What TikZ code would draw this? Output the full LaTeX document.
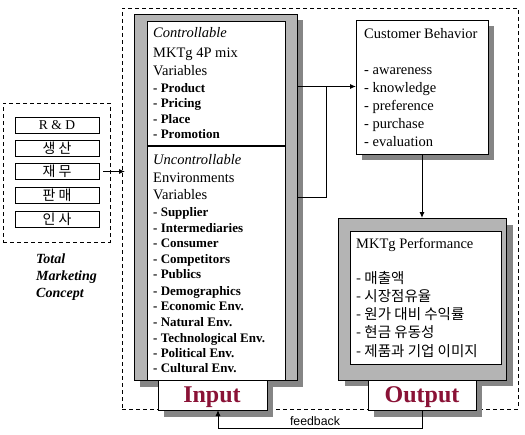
\documentclass[tikz,border=0pt]{standalone}
\usepackage{fontspec}
\setmainfont{Liberation Serif}
\newfontfamily\krfont{Noto Sans CJK KR}
\newfontfamily\arialfont{Liberation Sans}
\usetikzlibrary{arrows.meta}
\definecolor{panelgray}{HTML}{B4B4B4}
\definecolor{shadowgray}{HTML}{858585}
\definecolor{ioRed}{HTML}{8A1236}
\tikzset{
  box/.style={draw=black,line width=1pt,fill=white,inner sep=0pt,outer sep=0pt},
  panel/.style={draw=black,line width=1pt,fill=panelgray,inner sep=0pt,outer sep=0pt},
  shadowbox/.style={fill=shadowgray,draw=none,inner sep=0pt,outer sep=0pt},
  dashbox/.style={draw=black,line width=0.8pt,dash pattern=on 4pt off 3pt,inner sep=0pt,outer sep=0pt},
  txt/.style={anchor=base west,inner sep=0pt,font=\fontsize{14.5}{17}\selectfont},
  bld/.style={anchor=base west,inner sep=0pt,font=\fontsize{13}{15}\selectfont\bfseries},
  krtxt/.style={anchor=base west,inner sep=0pt,font=\fontsize{14.5}{17}\selectfont\krfont},
  deptbox/.style={box,minimum width=84pt,minimum height=16pt,font=\fontsize{14}{16}\selectfont\krfont},
  iolabel/.style={anchor=base,inner sep=0pt,text=ioRed,font=\fontsize{24}{26}\selectfont\bfseries},
  tmc/.style={anchor=base west,inner sep=0pt,font=\fontsize{14}{16}\selectfont\bfseries\itshape},
  conn/.style={draw=black,line width=1pt},
  arr/.style={conn,-{Latex[length=6pt,width=5pt]}},
}
\begin{document}
\begin{tikzpicture}[x=1pt,y=-1pt]
\useasboundingbox (0,0) rectangle (525,434);
% outer dashed frame
\node[dashbox,minimum width=396pt,minimum height=401pt] (outer) at (320,208.5) {};
% left dashed box
\node[dashbox,minimum width=107pt,minimum height=139pt] (lbox) at (56.5,172.5) {};
\node[deptbox,font=\fontsize{13.5}{15}\selectfont] (b1) at (57,125) {R \& D};
\node[deptbox] (b2) at (57,148.5) {생 산};
\node[deptbox] (b3) at (57,171.5) {재 무};
\node[deptbox] (b4) at (57,195.5) {판 매};
\node[deptbox] (b5) at (57,219.5) {인 사};
\node[tmc] (tm1) at (36,263) {Total};
\node[tmc] (tm2) at (36,280) {Marketing};
\node[tmc] (tm3) at (36,297) {Concept};

% Input panel
\node[shadowbox,minimum width=163pt,minimum height=367pt] (inshadow) at (221.5,203.5) {};
\node[panel,minimum width=163pt,minimum height=366pt] (inpanel) at (215.5,197) {};
\node[box,minimum width=138pt,minimum height=125pt] (ctrl) at (216,83.5) {};
\node[box,minimum width=138pt,minimum height=234pt] (unctrl) at (216,263) {};
\draw[line width=1.8pt] (ctrl.south west) -- (ctrl.south east);
\node[shadowbox,minimum width=109pt,minimum height=31pt] (inbshadow) at (218.5,401.5) {};
\node[box,minimum width=109pt,minimum height=30pt] (inbox) at (212.5,395) {};
\node[iolabel] (inlabel) at (212,402) {Input};

\node[txt,font=\fontsize{14.5}{17}\selectfont\itshape] (c1) at (153,37) {Controllable};
\node[txt] (c2) at (153,57) {MKTg 4P mix};
\node[txt] (c3) at (153,75) {Variables};
\node[bld] (c4) at (153,92) {- Product};
\node[bld] (c5) at (153,107.5) {- Pricing};
\node[bld] (c6) at (153,123) {- Place};
\node[bld] (c7) at (153,138) {- Promotion};

\node[txt,font=\fontsize{14.5}{17}\selectfont\itshape] (u1) at (153,164) {Uncontrollable};
\node[txt] (u2) at (153,182) {Environments};
\node[txt] (u3) at (153,199) {Variables};
\node[bld] (u4) at (153,216) {- Supplier};
\node[bld] (u5) at (153,232) {- Intermediaries};
\node[bld] (u6) at (153,247) {- Consumer};
\node[bld] (u7) at (153,263) {- Competitors};
\node[bld] (u8) at (153,278) {- Publics};
\node[bld] (u9) at (153,295) {- Demographics};
\node[bld] (u10) at (153,310) {- Economic Env.};
\node[bld] (u11) at (153,326) {- Natural Env.};
\node[bld] (u12) at (153,342) {- Technological Env.};
\node[bld] (u13) at (153,357) {- Political Env.};
\node[bld] (u14) at (153,372) {- Cultural Env.};

% Customer behavior
\node[shadowbox,minimum width=132pt,minimum height=134pt] (cshadow) at (428,93) {};
\node[box,minimum width=132pt,minimum height=134pt] (cust) at (422,87) {};
\node[txt] (cb0) at (364,38) {Customer Behavior};
\node[txt] (cb1) at (364,74) {- awareness};
\node[txt] (cb2) at (364,92) {- knowledge};
\node[txt] (cb3) at (364,110) {- preference};
\node[txt] (cb4) at (364,128) {- purchase};
\node[txt] (cb5) at (364,146) {- evaluation};

% Performance panel
\node[shadowbox,minimum width=168pt,minimum height=161pt] (pshadow) at (429,305.5) {};
\node[panel,minimum width=168pt,minimum height=162pt] (perf) at (422,299) {};
\node[box,minimum width=151pt,minimum height=133pt] (perfin) at (425.5,297.5) {};
\node[txt] (p0) at (356,248) {MKTg Performance};
\node[krtxt] (p1) at (356,283) {- 매출액};
\node[krtxt] (p2) at (356,301) {- 시장점유율};
\node[krtxt] (p3) at (356,319) {- 원가 대비 수익률};
\node[krtxt] (p4) at (356,337) {- 현금 유동성};
\node[krtxt] (p5) at (356,356) {- 제품과 기업 이미지};
\node[shadowbox,minimum width=108pt,minimum height=31pt] (outbshadow) at (428,401.5) {};
\node[box,minimum width=108pt,minimum height=30pt] (outbox) at (422,395) {};
\node[iolabel] (outlabel) at (422,402) {Output};

% connectors
\draw[arr] ([xshift=4pt]b3.east) -- ([xshift=3pt]b3.east -| outer.west);
\coordinate (jtop) at (326,86.5);
\coordinate (jbot) at (326,197);
\draw[conn] (jtop -| inpanel.east) -- (jtop) -- (jbot) -- (jbot -| inpanel.east);
\draw[arr] (jtop) -- (jtop -| cust.west);
\draw[arr] (cust.south) -- (cust.south |- perf.north);
\coordinate (fbr) at (422,428);
\coordinate (fbl) at (218,428);
\draw[arr] (outbox.south) -- (fbr) -- (fbl) -- (fbl |- inbox.south);
\node[anchor=base,inner sep=0pt,font=\fontsize{12.3}{14}\selectfont\arialfont] (fblabel) at (315,425) {feedback};
\end{tikzpicture}
\end{document}
